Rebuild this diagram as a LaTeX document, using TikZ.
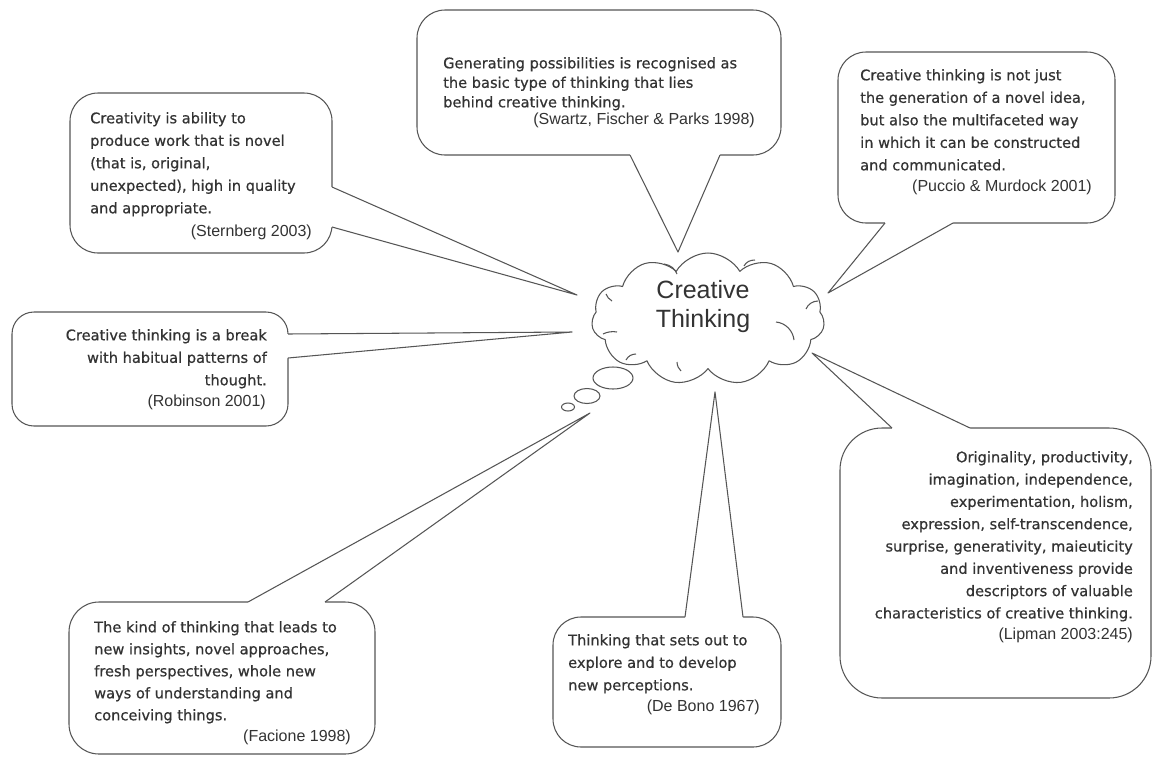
\documentclass[tikz,border=0pt]{standalone}
\usepackage{fontspec}
\setmainfont{DejaVu Sans}[FakeBold=0.6]
\newfontfamily\citefont{Liberation Sans}
\usetikzlibrary{shapes.symbols,shapes.geometric}
\definecolor{lg}{HTML}{555555}
\definecolor{tx}{HTML}{333333}
\tikzset{
  bline/.style={draw=lg, line width=1.05pt, line join=round},
  bubble/.style={bline, fill=white, rounded corners=#1},
  bodyL/.style={anchor=north west, inner sep=0pt, align=left, text=tx, font=\fontsize{14.6}{22.5}\selectfont},
  bodyR/.style={anchor=north east, inner sep=0pt, align=right, text=tx, font=\fontsize{14.6}{22.5}\selectfont},
  cite/.style={anchor=base east, inner sep=0pt, text=tx, font=\citefont\fontsize{16}{18}\selectfont},
  thought/.style={ellipse, bline, fill=white, inner sep=0pt},
}
\begin{document}
\begin{tikzpicture}[x=1pt,y=-1pt]
\useasboundingbox (0,0) rectangle (1156,758);
\fill[white] (0,0) rectangle (1156,758);

% ---- Swartz (top) ----
\draw[bubble=28pt] (417,10) rectangle (781,155);
\coordinate (swA) at (630,155); \coordinate (swB) at (720,155); \coordinate (swT) at (678,252);
\fill[white] (630,150) -- (swA) -- (swT) -- (swB) -- (720,150) -- cycle;
\draw[bline] (swA) -- (swT) -- (swB);

% ---- Sternberg ----
\draw[bubble=28pt] (70,93) rectangle (332,253);
\coordinate (stA) at (332,187); \coordinate (stB) at (332,227); \coordinate (stT) at (577,295);
\fill[white] (327,187) -- (stA) -- (stT) -- (stB) -- (327,227) -- cycle;
\draw[bline] (stA) -- (stT) -- (stB);

% ---- Puccio ----
\draw[bubble=28pt] (838,52) rectangle (1115,223);
\coordinate (puA) at (885,223); \coordinate (puB) at (953,223); \coordinate (puT) at (828,293);
\fill[white] (885,218) -- (puA) -- (puT) -- (puB) -- (953,218) -- cycle;
\draw[bline] (puA) -- (puT) -- (puB);

% ---- Robinson ----
\draw[bubble=22pt] (12,312) rectangle (288,426);
\coordinate (roA) at (288,334); \coordinate (roB) at (288,358); \coordinate (roT) at (572,332);
\fill[white] (283,334) -- (roA) -- (roT) -- (roB) -- (283,358) -- cycle;
\draw[bline] (roA) -- (roT) -- (roB);

% ---- Facione ----
\draw[bubble=30pt] (69,602) rectangle (375,754);
\coordinate (faA) at (248,602); \coordinate (faB) at (325,602); \coordinate (faT) at (590,413);
\fill[white] (248,607) -- (faA) -- (faT) -- (faB) -- (325,607) -- cycle;
\draw[bline] (faA) -- (faT) -- (faB);

% ---- De Bono ----
\draw[bubble=28pt] (553,617) rectangle (781,747);
\coordinate (dbA) at (685,617); \coordinate (dbB) at (743,617); \coordinate (dbT) at (715,392);
\fill[white] (685,622) -- (dbA) -- (dbT) -- (dbB) -- (743,622) -- cycle;
\draw[bline] (dbA) -- (dbT) -- (dbB);

% ---- Lipman ----
\draw[bubble=42pt] (840,428) rectangle (1151,698);
\coordinate (liA) at (892,428); \coordinate (liB) at (970,428); \coordinate (liT) at (812,353);
\fill[white] (892,433) -- (liA) -- (liT) -- (liB) -- (970,433) -- cycle;
\draw[bline] (liA) -- (liT) -- (liB);

% ---- Cloud ----
\node[cloud, cloud puffs=11, cloud puff arc=120, aspect=1.77, bline, fill=white,
      minimum width=233pt, minimum height=132pt, inner sep=0pt] (cloud) at (708,319) {};
\draw[bline] (664,264) .. controls (671,265) and (675,269) .. (677,274);
\draw[bline] (744,266) .. controls (746,262) and (750,260) .. (755,260);
\draw[bline] (806,309) .. controls (808,304) and (813,301) .. (818,301);
\draw[bline] (776,322) .. controls (786,323) and (793,331) .. (794,340);
\draw[bline] (626,360) .. controls (628,356) and (632,354) .. (636,354);
\draw[bline] (677,362) .. controls (677,366) and (679,369) .. (681,371);
\draw[bline] (603,334) .. controls (607,332) and (612,331) .. (617,332);
\draw[bline] (612,301) .. controls (609,299) and (607,297) .. (606,294);
\node[align=center, text=tx, font=\citefont\fontsize{25}{29}\selectfont] (ctxt) at (703,307) {Creative\\Thinking};

\node[thought, minimum width=40pt, minimum height=22pt] (th1) at (613,378) {};
\node[thought, minimum width=26pt, minimum height=15pt] (th2) at (587,396) {};
\node[thought, minimum width=13pt, minimum height=8pt] (th3) at (568,407) {};

% ---- Texts ----
\node[bodyL] (tS) at (90,112) {Creativity is ability to\\produce work that is novel\\(that is, original,\\unexpected), high in quality\\and appropriate.};
\node[cite] (cS) at (312,236) {(Sternberg 2003)};

\node[bodyL, font=\fontsize{14.6}{19.5}\selectfont] (tW) at (443,57) {Generating possibilities is recognised as\\the basic type of thinking that lies\\behind creative thinking.};
\node[cite] (cW) at (755,124) {(Swartz, Fischer \& Parks 1998)};

\node[bodyL] (tP) at (860,69) {Creative thinking is not just\\the generation of a novel idea,\\but also the multifaceted way\\in which it can be constructed\\and communicated.};
\node[cite] (cP) at (1092,191) {(Puccio \& Murdock 2001)};

\node[bodyR] (tR) at (267,329) {Creative thinking is a break\\with habitual patterns of\\thought.};
\node[cite] (cR) at (266,406) {(Robinson 2001)};

\node[bodyL, font=\fontsize{14.6}{22}\selectfont] (tF) at (94,621) {The kind of thinking that leads to\\new insights, novel approaches,\\fresh perspectives, whole new\\ways of understanding and\\conceiving things.};
\node[cite] (cF) at (351,741) {(Facione 1998)};

\node[bodyL] (tD) at (568,634) {Thinking that sets out to\\explore and to develop\\new perceptions.};
\node[cite] (cD) at (760,711) {(De Bono 1967)};

\node[bodyR, font=\fontsize{14.6}{22.3}\selectfont] (tL) at (1133,451) {Originality, productivity,\\imagination, independence,\\experimentation, holism,\\expression, self-transcendence,\\surprise, generativity, maieuticity\\and inventiveness provide\\descriptors of valuable\\characteristics of creative thinking.};
\node[cite] (cL) at (1133,639) {(Lipman 2003:245)};
\end{tikzpicture}
\end{document}
